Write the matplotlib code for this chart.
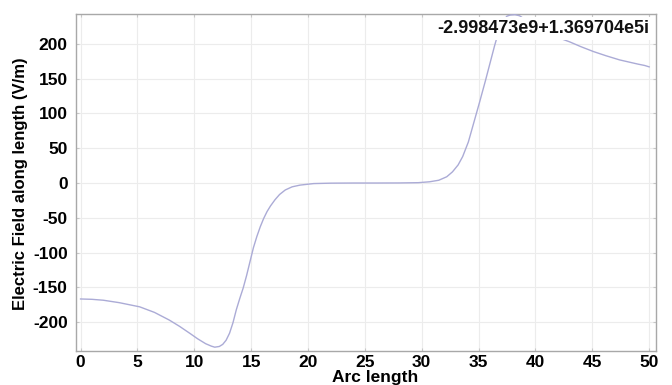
import matplotlib
matplotlib.use("Agg")
import matplotlib.pyplot as plt

arc_length = [0, 1.0, 2.0, 3.4, 4.3, 5.2, 6.5, 7.8, 8.7, 9.6, 10.3, 11.0, 11.5, 11.8, 12.2,
              12.5, 12.8, 13.1, 13.4, 13.7, 14.0, 14.3, 14.6, 14.9, 15.2, 15.5, 15.8, 16.1,
              16.4, 16.7, 17.1, 17.5, 18.0, 18.6, 19.3, 20.5, 22.0, 24.0, 26.0, 28.0, 29.7,
              30.7, 31.5, 32.2, 32.7, 33.2, 33.6, 34.1, 34.6, 35.1, 35.6, 36.0, 36.4, 36.8,
              37.2, 37.5, 37.8, 38.2, 38.6, 39.0, 39.5, 40.0, 40.8, 42.0, 43.0, 44.0,
              45.1, 46.2, 47.4, 48.2, 49.0, 49.6, 50.0]
e_field = [-166.7, -167.2, -168.5, -172, -175, -178, -186, -197, -206, -216, -224, -231,
           -234.5, -236, -235, -232, -226, -216, -201, -182, -166, -151, -133, -113, -93,
           -77, -63, -51, -41, -33, -24, -16.5, -10, -5.5, -3, -0.8, -0.2, 0, 0, 0.1,
           0.5, 1.8, 4, 9, 16, 26, 38, 59, 88, 117, 147, 172, 197, 220, 234, 240, 241.5,
           242, 240.5, 236, 231, 226, 217, 209, 203, 196, 189, 183, 177, 174, 171, 169, 167]

x_ticks = list(range(0, 51, 5))
y_ticks = list(range(-200, 201, 50))
annotation = "-2.998473e9+1.369704e5i"

plt.rcParams['font.family'] = ['Liberation Sans', 'DejaVu Sans']
plt.rcParams['axes.unicode_minus'] = False

fig = plt.figure(figsize=(6.72, 3.85), dpi=100)
ax = fig.add_axes([76/672, 1-351/385, (656-76)/672, (351-14)/385])

ax.plot(arc_length, e_field, color='#ababd6', lw=1.0, zorder=3)
ax.set_xlim(-0.4, 50.6)
ax.set_ylim(-241.5, 243)
ax.set_xticks(x_ticks)
ax.set_yticks(y_ticks)
ax.grid(True, color='#ececec', lw=0.8)
ax.set_axisbelow(True)
for s in ax.spines.values():
    s.set_color('#a8a8a8')
    s.set_linewidth(1.0)
ax.tick_params(axis='both', which='both', direction='in', length=2.5, color='#c8c8c8',
               top=True, right=True, labelsize=12.5)
ax.tick_params(axis='x', pad=3)
ax.tick_params(axis='y', pad=6)
for lbl in ax.get_xticklabels() + ax.get_yticklabels():
    lbl.set_fontweight('bold')

ax.set_xlabel('Arc length', fontsize=12.5, fontweight='bold', va='top')
ax.xaxis.set_label_coords((375-76)/580, (351-370)/337)
ax.set_ylabel('Electric Field along length (V/m)', fontsize=12, fontweight='bold', va='center')
ax.yaxis.set_label_coords((21-76)/580, 0.497)

ax.text(649/672, 1-28.5/385, annotation, transform=fig.transFigure, ha='right', va='center',
        fontsize=13, fontweight='bold', color='#111111', zorder=5,
        bbox=dict(facecolor='white', edgecolor='none', pad=2.0))

fig.savefig('out.png', dpi=100)
